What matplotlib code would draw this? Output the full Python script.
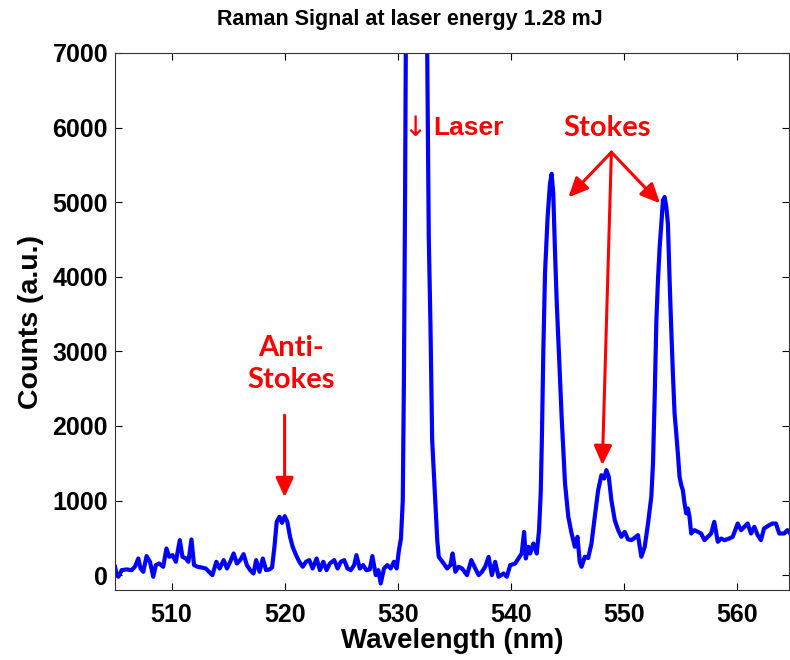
import matplotlib
matplotlib.use("Agg")
import matplotlib.pyplot as plt

# spectrum (nm, counts)
wavelength = [
    505.0, 505.15, 505.3, 505.59, 506.03, 506.47, 506.76, 507.06, 507.26, 507.5,
    507.79, 508.09, 508.38, 508.61, 508.91, 509.26, 509.55, 509.79, 510.08, 510.38,
    510.73, 510.96, 511.26, 511.49, 511.76, 511.99, 512.29, 512.64, 513.02, 513.31,
    513.61, 513.96, 514.25, 514.61, 514.9, 515.19, 515.49, 515.78, 516.07, 516.37,
    516.66, 516.95, 517.25, 517.48, 517.78, 518.07, 518.36, 518.66, 518.89, 519.1,
    519.3, 519.54, 519.77, 520.01, 520.24, 520.48, 520.71, 521.01, 521.3, 521.6,
    521.89, 522.18, 522.48, 522.83, 523.12, 523.42, 523.71, 524.0, 524.39, 524.68,
    524.97, 525.27, 525.56, 525.85, 526.15, 526.35, 526.65, 526.94, 527.23, 527.53,
    527.76, 528.06, 528.29, 528.5, 528.79, 529.08, 529.38, 529.67, 529.91, 530.11,
    530.29, 530.45, 530.55, 530.65, 530.75, 530.9, 532.45, 532.6, 532.75,
    532.9, 533.05, 533.2, 533.35, 533.5, 533.63, 534.07, 534.37, 534.66, 534.86,
    535.1, 535.39, 535.69, 536.13, 536.51, 536.86, 537.16, 537.45, 537.74, 538.04,
    538.33, 538.62, 538.92, 539.36, 539.65, 539.95, 540.39, 540.68, 540.97, 541.18,
    541.33, 541.56, 541.71, 542.0, 542.3, 542.5, 542.65, 542.75, 542.88, 543.03,
    543.26, 543.47, 543.62, 543.76, 543.91, 544.06, 544.2, 544.35, 544.5, 544.65,
    544.8, 545.09, 545.38, 545.67, 545.9, 546.1, 546.26, 546.55, 546.85, 547.14,
    547.43, 547.73, 548.02, 548.26, 548.46, 548.67, 548.9, 549.2, 549.5, 549.78,
    550.08, 550.37, 550.67, 550.96, 551.25, 551.55, 551.85, 552.14, 552.43, 552.58,
    552.73, 552.88, 553.02, 553.17, 553.32, 553.46, 553.61, 553.76, 553.9, 554.05,
    554.2, 554.34, 554.49, 554.64, 554.78, 554.93, 555.08, 555.22, 555.37, 555.52,
    555.66, 555.81, 555.96, 556.25, 556.55, 556.84, 557.13, 557.43, 557.72, 558.0,
    558.31, 558.6, 558.9, 559.3, 559.63, 560.07, 560.37, 560.66, 560.95, 561.25,
    561.54, 561.84, 562.13, 562.4, 562.86, 563.15, 563.45, 563.75, 564.18, 564.47,
    564.7,
]
counts = [
    112, 0, -22, 67, 76, 67, 112, 223, 89, 45,
    255, 179, -22, 134, 156, 112, 357, 246, 268, 179,
    469, 246, 223, 179, 478, 134, 112, 103, 89, 45,
    0, 179, 89, 201, 89, 179, 290, 156, 201, 281,
    134, 67, 22, 201, 45, 223, 67, 76, 103, 380,
    714, 782, 701, 790, 714, 514, 380, 268, 179, 112,
    179, 201, 89, 223, 67, 179, 67, 156, 201, 89,
    179, 201, 89, 67, 134, 268, 89, 134, 67, 76,
    255, 0, 67, -112, 89, 134, 89, 179, 89, 335,
    491, 1000, 2600, 5000, 8000, 30000, 30000, 7200, 4520,
    3340, 1810, 1350, 915, 469, 245, 156, 89, 134, 290,
    45, 112, 89, 0, 201, 89, 0, 45, 112, 245,
    0, 179, -22, 22, -22, 134, 156, 223, 290, 580,
    223, 380, 290, 424, 290, 600, 1100, 1800, 3000, 4050,
    4800, 5250, 5380, 5114, 4355, 3685, 3193, 2657, 2122, 1675,
    1228, 782, 559, 380, 514, 179, 112, 246, 230, 424,
    782, 1139, 1340, 1295, 1407, 1318, 1005, 737, 603, 514,
    580, 480, 469, 500, 536, 246, 380, 692, 1049, 1496,
    2390, 3417, 3953, 4400, 4711, 5025, 5070, 4935, 4711, 3953,
    3283, 2702, 2166, 1898, 1630, 1318, 1206, 1139, 961, 827,
    894, 782, 558, 603, 580, 558, 469, 514, 558, 714,
    447, 490, 469, 490, 513, 692, 603, 648, 692, 558,
    648, 536, 469, 625, 670, 692, 692, 558, 558, 603,
    560,
]

x_ticks = [510, 520, 530, 540, 550, 560]
y_ticks = [0, 1000, 2000, 3000, 4000, 5000, 6000, 7000]

plt.rcParams['font.family'] = ['Liberation Sans', 'DejaVu Sans']

fig = plt.figure(figsize=(7.9, 6.6), dpi=100)
ax = fig.add_axes([0.1456, 0.106, 0.853, 0.8137])

ax.plot(wavelength, counts, color='#0000FF', lw=3, solid_joinstyle='round')

ax.set_xlim(505, 564.6)
ax.set_ylim(-200, 7000)
ax.set_xticks(x_ticks)
ax.set_yticks(y_ticks)
ax.tick_params(direction='in', length=5, width=0.8, top=True, right=True,
               labelsize=18, pad=5)
ax.tick_params(axis='x', pad=9)
for lab in ax.get_xticklabels() + ax.get_yticklabels():
    lab.set_fontweight('bold')
for sp in ax.spines.values():
    sp.set_linewidth(0.8)
    sp.set_color('#333333')

ax.set_xlabel("Wavelength (nm)", fontsize=20, fontweight='bold', labelpad=1)
ax.set_ylabel("Counts (a.u.)", fontsize=20.5, fontweight='bold', labelpad=6)
fig.text(0.519, 0.97, "Raman Signal at laser energy 1.28 mJ", ha='center', va='center',
         fontsize=15.5, fontweight='bold')

# annotations
red = '#FF0000'
afont = dict(color=red, fontsize=21, fontweight='bold', family=['Lato', 'DejaVu Sans'])
ax.text(531.55, 6000, "\u2193", color=red, fontsize=20, va='center', ha='center',
        family=['DejaVu Sans'])
ax.text(533.15, 6000, "Laser", color=red, fontsize=19, fontweight='bold',
        va='center', ha='left')
ax.text(548.5, 6000, "Stokes", va='center', ha='center', **afont)
ax.text(520.6, 2830, "Anti-\nStokes", va='center', ha='center', linespacing=1.25, **afont)

arrow = dict(arrowstyle='-|>,head_length=0.65,head_width=0.3', color=red, lw=2.2,
             mutation_scale=18, shrinkA=0, shrinkB=0)
start = (548.9, 5670)
for end in [(545.1, 5065), (553.2, 4985), (548.1, 1474)]:
    ax.annotate("", xy=end, xytext=start, arrowprops=arrow)
ax.annotate("", xy=(520.0, 1045), xytext=(520.0, 2144), arrowprops=arrow)

fig.savefig("out.png", dpi=100)
